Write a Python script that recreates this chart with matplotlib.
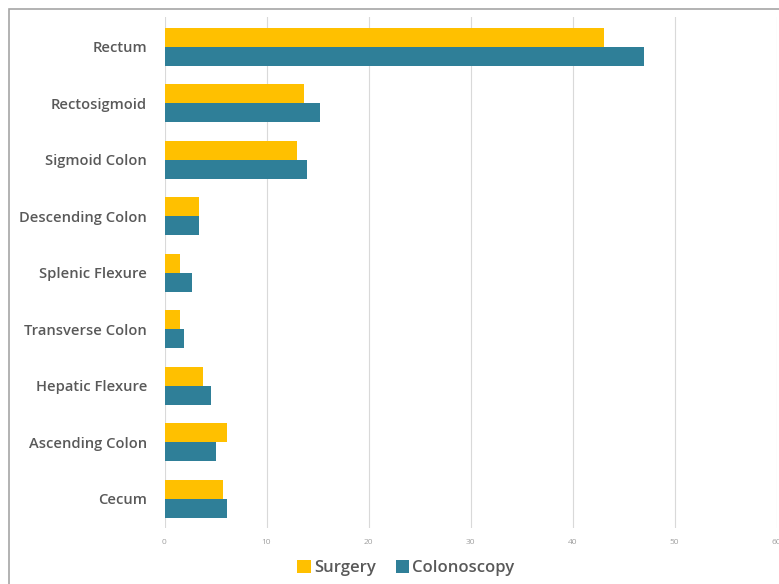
import matplotlib
matplotlib.use("Agg")
import matplotlib.pyplot as plt
import numpy as np
from matplotlib.patches import Rectangle

categories = ["Rectum", "Rectosigmoid", "Sigmoid Colon", "Descending Colon", "Splenic Flexure",
              "Transverse Colon", "Hepatic Flexure", "Ascending Colon", "Cecum"]
surgery = [43.1, 13.7, 13.0, 3.4, 1.5, 1.5, 3.8, 6.1, 5.7]
colonoscopy = [47.0, 15.2, 14.0, 3.4, 2.7, 1.9, 4.6, 5.0, 6.1]
xticks = [0, 10, 20, 30, 40, 50, 60]

YELLOW = "#FFC000"
TEAL = "#2F7F98"
TXT = "#595959"

fig = plt.figure(figsize=(7.79, 5.84), dpi=100)
fig.patches.append(Rectangle((9/779, -0.1), 1.2, 1 - 9/584 + 0.1, transform=fig.transFigure,
                             fill=False, edgecolor="#A6A6A6", linewidth=1.2))
ax = fig.add_axes([164.5/779, 1 - 528/584, (776.5 - 164.5)/779, (528 - 17)/584])

y = np.arange(len(categories))
h = 0.336
ax.barh(y - h/2, surgery, height=h, color=YELLOW, label="Surgery")
ax.barh(y + h/2, colonoscopy, height=h, color=TEAL, label="Colonoscopy")

ax.set_xlim(0, 60)
ax.set_ylim(len(categories) - 1 + 0.52, -0.53)
ax.set_xticks(xticks)
ax.set_xticklabels([str(t) for t in xticks], fontsize=6, color="#A0A0A0", family="Open Sans")
ax.set_yticks(y)
ax.set_yticklabels(categories, fontsize=10.6, color=TXT, family="Open Sans", fontweight="semibold")
ax.tick_params(axis="both", length=0)
ax.tick_params(axis="y", pad=12.5)
ax.tick_params(axis="x", pad=8)
ax.grid(axis="x", color="#D9D9D9", linewidth=0.8)
ax.set_axisbelow(True)
for s in ax.spines.values():
    s.set_visible(False)

leg = fig.legend(loc="center", bbox_to_anchor=(406/779, 1 - 568/584), ncol=2, frameon=False,
                 prop={"family": "Open Sans", "weight": "semibold", "size": 12},
                 handlelength=0.8, handleheight=0.8, handletextpad=0.2, columnspacing=1.2)
for t in leg.get_texts():
    t.set_color(TXT)

fig.savefig("out.png", dpi=100)
